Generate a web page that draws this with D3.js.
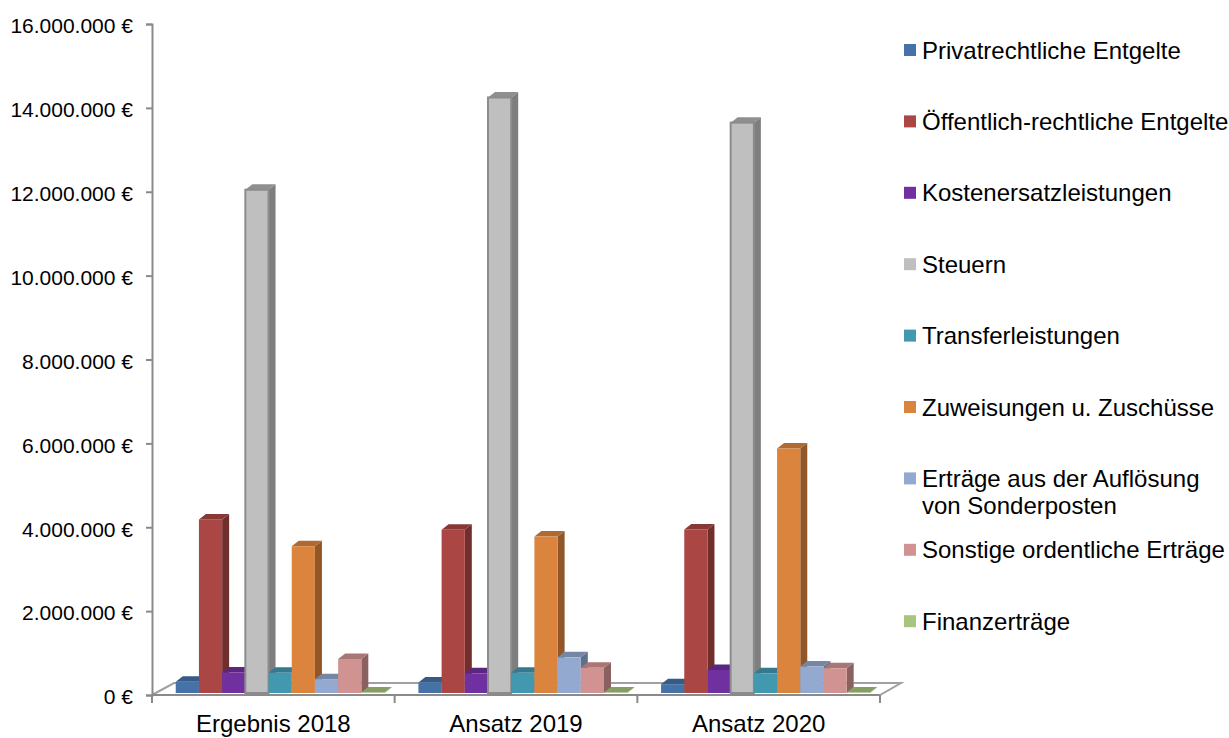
<!DOCTYPE html>
<html><head><meta charset="utf-8">
<script src="https://cdn.jsdelivr.net/npm/d3@7"></script>
<style>
body{margin:0;background:#fff;}
svg{display:block;font-family:"Liberation Sans",Arial,sans-serif;}
</style></head>
<body><svg id="c" width="1229" height="738"></svg>
<script>
// ---- data ----
const categories = ["Ergebnis 2018", "Ansatz 2019", "Ansatz 2020"];
const seriesNames = ["Privatrechtliche Entgelte", "Öffentlich-rechtliche Entgelte", "Kostenersatzleistungen", "Steuern", "Transferleistungen", "Zuweisungen u. Zuschüsse", "Erträge aus der Auflösung von Sonderposten", "Sonstige ordentliche Erträge", "Finanzerträge"];
const privatrechtliche = [270000, 250000, 210000];
const oeffentlich = [4140000, 3890000, 3900000];
const kostenersatz = [490000, 470000, 550000];
const steuern = [12000000, 14200000, 13600000];
const transfer = [480000, 480000, 470000];
const zuweisungen = [3500000, 3730000, 5830000];
const aufloesung = [330000, 850000, 630000];
const sonstige = [810000, 600000, 590000];
const finanz = [10000, 10000, 10000];
const seriesValues = [privatrechtliche, oeffentlich, kostenersatz, steuern, transfer, zuweisungen, aufloesung, sonstige, finanz];
const seriesColors = ["#4572A7", "#AA4643", "#7030A0", "#BFBFBF", "#4198AF", "#DB843D", "#93A9CF", "#D19392", "#A9C47F"];
const legendLines = [["Privatrechtliche Entgelte"], ["Öffentlich-rechtliche Entgelte"], ["Kostenersatzleistungen"], ["Steuern"], ["Transferleistungen"], ["Zuweisungen u. Zuschüsse"], ["Erträge aus der Auflösung", "von Sonderposten"], ["Sonstige ordentliche Erträge"], ["Finanzerträge"]];
const yTicks = [0, 2000000, 4000000, 6000000, 8000000, 10000000, 12000000, 14000000, 16000000];

// ---- chart ----
const svg = d3.select("#c");
const locale = d3.formatLocale({decimal: ",", thousands: ".", grouping: [3], currency: ["", " €"]});
const fmt = v => locale.format(",.0f")(v) + " €";

const left = 152, right = 880, floorY = 695, topY = 24;
const y = d3.scaleLinear().domain([0, 16000000]).range([floorY, topY]);
const x0 = d3.scaleBand().domain(categories).range([left, right]);
const x1 = d3.scaleBand().domain(seriesNames).range([0, x0.bandwidth()]).paddingOuter(0.73);
const floorDx = 22, floorDy = 12;       // floor depth
const barShiftX = 6.8, barShiftY = 2;  // bar position inside floor depth
const depthX = 7, depthY = 5.5;        // bar depth
const axisColor = "#8a8a8a";

function scaleColor(c, k) {
  const r = d3.rgb(c);
  return d3.rgb(r.r * k, r.g * k, r.b * k).formatHex();
}

// floor
svg.append("path")
  .attr("d", `M${left},${floorY} L${right},${floorY} L${right + floorDx - 1},${floorY - floorDy} L${left + floorDx},${floorY - floorDy} Z`)
  .attr("fill", "#fff").attr("stroke", "#a0a0a0").attr("stroke-width", 2);

// bars
const bars = [];
categories.forEach((cat, ci) => {
  seriesNames.forEach((s, si) => {
    bars.push({cat, s, si, v: seriesValues[si][ci]});
  });
});
const g = svg.append("g");
bars.forEach(b => {
  const xl = x0(b.cat) + x1(b.s) + barShiftX;
  const xr = xl + x1.bandwidth();
  const yb = floorY - barShiftY;
  const yt = y(b.v) - barShiftY;
  const col = seriesColors[b.si];
  const isGray = b.si === 3;
  const bg = g.append("g");
  bg.append("path")
    .attr("d", `M${xr},${yt} L${xr + depthX},${yt - depthY} L${xr + depthX},${yb - depthY} L${xr},${yb} Z`)
    .attr("fill", scaleColor(col, 0.66));
  bg.append("path")
    .attr("d", `M${xl},${yt} L${xl + depthX},${yt - depthY} L${xr + depthX},${yt - depthY} L${xr},${yt} Z`)
    .attr("fill", scaleColor(col, isGray ? 0.75 : 0.8));
  bg.append("rect")
    .attr("x", xl).attr("y", yt).attr("width", xr - xl).attr("height", Math.max(0, yb - yt))
    .attr("fill", col)
    .attr("stroke", isGray ? "#8c8c8c" : "none").attr("stroke-width", isGray ? 2 : 0);
});

// value axis
const ya = svg.append("g").attr("transform", `translate(${left},0)`)
  .call(d3.axisLeft(y).tickValues(yTicks).tickSize(6).tickPadding(13).tickFormat(fmt));
ya.select(".domain").attr("stroke", axisColor).attr("stroke-width", 2);
ya.selectAll(".tick line").attr("stroke", axisColor).attr("stroke-width", 2);
ya.selectAll(".tick text").attr("font-size", 21).attr("fill", "#000")
  .attr("font-family", "Liberation Sans, Arial, sans-serif").attr("dy", "0.42em");

// category axis
svg.append("line").attr("x1", left).attr("x2", right).attr("y1", floorY).attr("y2", floorY)
  .attr("stroke", axisColor).attr("stroke-width", 2);
const bounds = categories.map(c => x0(c)).concat([x0(categories[categories.length - 1]) + x0.bandwidth()]);
svg.selectAll(".xtick").data(bounds).join("line")
  .attr("x1", d => d).attr("x2", d => d).attr("y1", floorY).attr("y2", floorY + 8)
  .attr("stroke", axisColor).attr("stroke-width", 2);
svg.selectAll(".xlab").data(categories).join("text")
  .attr("x", d => x0(d) + x0.bandwidth() / 2).attr("y", 732)
  .attr("text-anchor", "middle").attr("font-size", 24).attr("fill", "#000")
  .text(d => d);

// legend
const lg = svg.append("g");
seriesNames.forEach((s, i) => {
  const cy = 50 + i * 71.4;
  lg.append("rect").attr("x", 904).attr("y", cy - 6).attr("width", 12).attr("height", 12)
    .attr("fill", seriesColors[i]);
  legendLines[i].forEach((line, li) => {
    lg.append("text").attr("x", 922).attr("y", cy + li * 27).attr("dy", "0.36em")
      .attr("font-size", 24).attr("fill", "#000").text(line);
  });
});
</script>
</body></html>
